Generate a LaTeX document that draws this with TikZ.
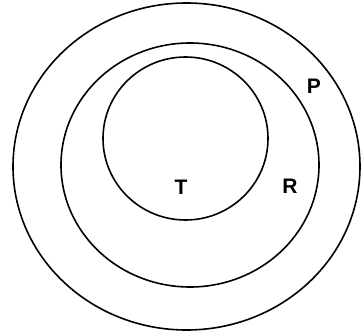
\documentclass[tikz,border=0pt]{standalone}
\usepackage{fontspec}
\setmainfont{Liberation Sans}
\begin{document}
\begin{tikzpicture}[x=1pt,y=-1pt,
  ring/.style={draw=black,line width=1.6pt},
  lbl/.style={font=\fontsize{21}{21}\selectfont\bfseries,inner sep=0pt}]
\useasboundingbox (0,0) rectangle (362,332);
\draw[ring] (186.5,166.5) ellipse [x radius=173.5,y radius=163.5];
\draw[ring] (190,165) ellipse [x radius=129,y radius=122];
\draw[ring] (185.5,138.5) ellipse [x radius=82.5,y radius=81.5];
\node[lbl] (P) at (314,86) {P};
\node[lbl] (R) at (290,186) {R};
\node[lbl] (T) at (181,187) {T};
\end{tikzpicture}
\end{document}
